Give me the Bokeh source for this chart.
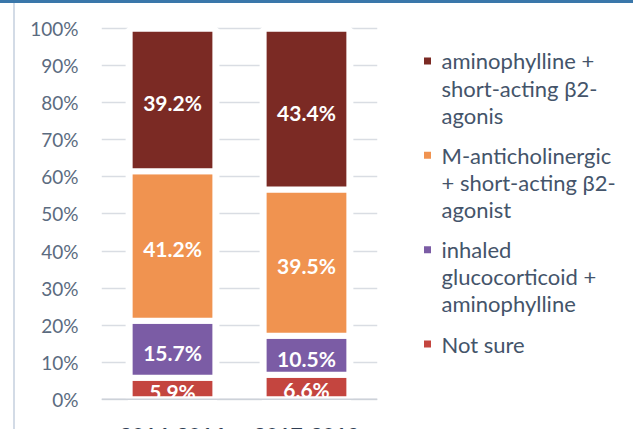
from bokeh.plotting import figure
from bokeh.models import (ColumnDataSource, FactorRange, Range1d, FixedTicker,
                          PrintfTickFormatter, Span, Div)
from bokeh.layouts import row, column
from bokeh.core.properties import value
from bokeh.embed import file_html
from bokeh.resources import INLINE

# ---------------- data ----------------
categories = ["2014-2016", "2017-2019"]
not_sure = [5.9, 6.6]
inhaled_gc_amino = [15.7, 10.5]
m_anticholinergic = [41.2, 39.5]
aminophylline_saba = [39.2, 43.4]
y_ticks = [0, 10, 20, 30, 40, 50, 60, 70, 80, 90, 100]

series_names = ["not_sure", "inhaled", "m_anti", "amino"]          # bottom -> top
series_values = [not_sure, inhaled_gc_amino, m_anticholinergic, aminophylline_saba]
series_colors = ["#C4453F", "#7B5CA5", "#F09350", "#7B2A24"]
legend_lines = [
    ["Not sure"],
    ["inhaled", "glucocorticoid +", "aminophylline"],
    ["M-anticholinergic", "+ short-acting \u03b22-", "agonist"],
    ["aminophylline +", "short-acting \u03b22-", "agonis"],
]

FONT = value("Lato")
TEXT_COLOR = "#44546A"

# 100% stacked: normalise every category to its total
totals = [sum(v[i] for v in series_values) for i in range(len(categories))]
norm = [[v[i] / totals[i] * 100 for i in range(len(categories))] for v in series_values]

data = {"cat": categories, "full": [100.0] * len(categories)}
for name, vals in zip(series_names, norm):
    data[name] = vals
source = ColumnDataSource(data)

# ---------------- chart ----------------
p = figure(x_range=FactorRange(*categories, range_padding=0.03),
           y_range=Range1d(-8.18, 105.48),
           width=385, height=426, output_backend="svg", toolbar_location=None,
           min_border_left=86, min_border_right=23, min_border_top=5, min_border_bottom=0,
           margin=0)
p.title.visible = False
p.outline_line_color = None
p.background_fill_color = "white"
p.border_fill_color = "white"
p.xaxis.visible = False
p.xgrid.grid_line_color = None

ticker = FixedTicker(ticks=y_ticks)
p.yaxis.ticker = ticker
p.yaxis.formatter = PrintfTickFormatter(format="%d%%")
p.yaxis.axis_line_color = None
p.yaxis.major_tick_line_color = None
p.yaxis.minor_tick_line_color = None
p.yaxis.major_label_standoff = 17
p.yaxis.major_label_text_font = "Lato"
p.yaxis.major_label_text_font_size = "19px"
p.yaxis.major_label_text_color = "#5B6B80"
p.ygrid.ticker = ticker
p.ygrid.grid_line_color = "#D9DDE3"
p.ygrid.grid_line_width = 1.5

# white backing bars hide gridlines next to the bars
p.vbar(x="cat", top="full", bottom=0, width=0.70, source=source,
       fill_color="white", line_color=None)
p.vbar_stack(series_names, x="cat", width=0.64, source=source,
             fill_color=series_colors, line_color="white", line_width=6)

p.add_layout(Span(location=0, dimension="width", line_color="#CDD2D9",
                  line_width=1.5, level="overlay"))

# segment labels
lab_x, lab_y, lab_t = [], [], []
for i, cat in enumerate(categories):
    base = 0.0
    for s, vals in enumerate(series_values):
        h = norm[s][i]
        lab_x.append(cat)
        lab_y.append(base + h / 2)
        lab_t.append(f"{vals[i]:.1f}%")
        base += h
p.text(x=lab_x, y=lab_y, text=lab_t, text_font=FONT, text_font_style="bold",
       text_font_size="21px", text_color="white", text_align="center",
       text_baseline="middle", y_offset=3)

# category labels (partly cut at the bottom edge, as in the original)
p.text(x=categories, y=[-7.8] * len(categories), text=categories, text_font=FONT,
       text_font_style="bold", text_font_size="21px", text_color="#2F3D52",
       text_align="center", text_baseline="top")

# ---------------- legend ----------------
lg = figure(x_range=Range1d(400, 633), y_range=Range1d(429, 3),
            width=233, height=426, output_backend="svg", toolbar_location=None,
            min_border=0, margin=0)
lg.title.visible = False
lg.outline_line_color = None
lg.axis.visible = False
lg.grid.visible = False

mk_x, mk_y, mk_c = [], [], []
tx, ty, tt = [], [], []
y = 56.0
for idx in reversed(range(len(series_names))):
    mk_x.append(427)
    mk_y.append(y)
    mk_c.append(series_colors[idx])
    for k, line in enumerate(legend_lines[idx]):
        tx.append(441)
        ty.append(y + 27.5 * k)
        tt.append(line)
    y += 27.5 * (len(legend_lines[idx]) - 1) + 40.5
lg.scatter(x=mk_x, y=mk_y, marker="square", size=7, fill_color=mk_c, line_color=None)
lg.text(x=tx, y=ty, text=tt, text_font=FONT, text_font_size="22px",
        text_color=TEXT_COLOR, text_align="left", text_baseline="middle")

top_bar = Div(width=633, height=3, margin=0, styles={"background-color": "#3A77AA"})
left_pad = Div(width=13, height=426, margin=0)
left_line = Div(width=2, height=426, margin=0, styles={"background-color": "#D3DBE6"})
layout = column(top_bar, row(left_pad, left_line, p, lg, margin=0), margin=0)

open("out.html", "w").write(file_html(layout, INLINE))
